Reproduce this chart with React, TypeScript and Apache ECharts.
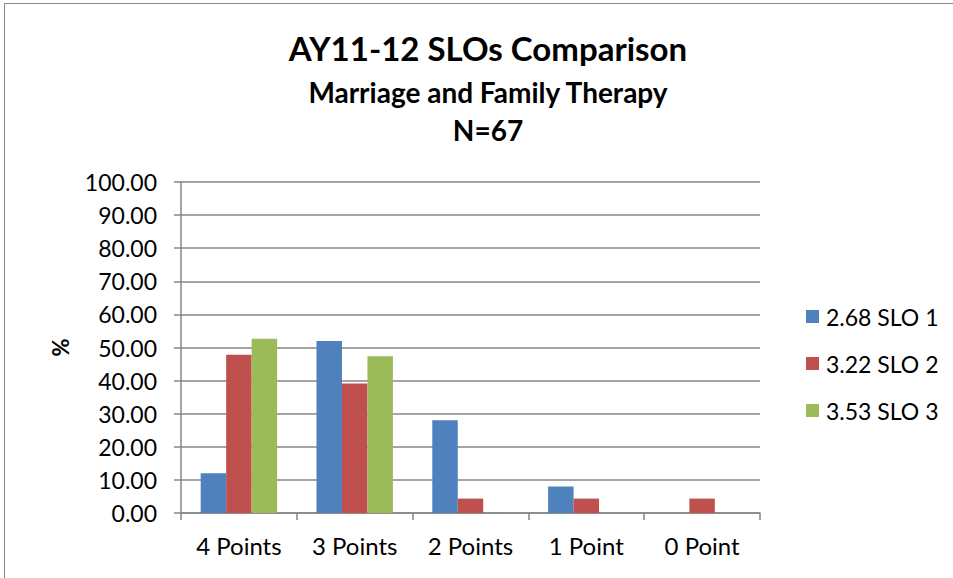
import React, { useEffect, useRef } from "react";
import * as echarts from "echarts";

const categories = ["4 Points", "3 Points", "2 Points", "1 Point", "0 Point"];
const seriesNames = ["2.68 SLO 1", "3.22 SLO 2", "3.53 SLO 3"];
const slo1 = [12.0, 52.0, 28.0, 8.0, 0];
const slo2 = [47.83, 39.13, 4.35, 4.35, 4.35];
const slo3 = [52.63, 47.37, 0, 0, 0];
const colors = ["#4F81BD", "#C0504D", "#9BBB59"];
const titleLines = ["AY11-12 SLOs Comparison", "Marriage and Family Therapy", "N=67"];

const FONT = "Lato, 'Open Sans', sans-serif";

export default function App() {
  const ref = useRef<HTMLDivElement>(null);
  useEffect(() => {
    document.body.style.margin = "0";
    const chart = echarts.init(ref.current!, null, { renderer: "svg" });
    const data = [slo1, slo2, slo3];
    chart.setOption({
      animation: false,
      backgroundColor: "#ffffff",
      textStyle: { fontFamily: FONT },
      grid: { left: 181, right: 193, top: 182, bottom: 65, containLabel: false },
      graphic: [
        {
          type: "rect",
          shape: { x: 4.5, y: 3.5, width: 1000, height: 1000 },
          style: { fill: "none", stroke: "#868686", lineWidth: 1 },
          silent: true,
        },
        {
          type: "text",
          x: 488,
          y: 48,
          style: { text: titleLines[0], font: `bold 33px ${FONT}`, fill: "#000", textAlign: "center", textVerticalAlign: "middle" },
        },
        {
          type: "text",
          x: 488,
          y: 92,
          style: { text: titleLines[1], font: `bold 28px ${FONT}`, fill: "#000", textAlign: "center", textVerticalAlign: "middle" },
        },
        {
          type: "text",
          x: 488,
          y: 130,
          style: { text: titleLines[2], font: `bold 28px ${FONT}`, fill: "#000", textAlign: "center", textVerticalAlign: "middle" },
        },
      ],
      legend: {
        orient: "vertical",
        left: 801,
        top: 300,
        itemWidth: 13,
        itemHeight: 13,
        itemGap: 24,
        icon: "rect",
        textStyle: { fontSize: 23, color: "#000", fontFamily: FONT, padding: [0, 0, 0, 2] },
        data: seriesNames,
      },
      xAxis: {
        type: "category",
        data: categories,
        axisLine: { lineStyle: { color: "#868686", width: 1.5 } },
        axisTick: { show: true, length: 7, alignWithLabel: false, lineStyle: { color: "#868686", width: 1.5 } },
        axisLabel: { fontSize: 24, color: "#000", margin: 20, fontFamily: FONT },
      },
      yAxis: {
        type: "value",
        min: 0,
        max: 100,
        interval: 10,
        name: "%",
        nameLocation: "middle",
        nameGap: 110,
        nameRotate: 90,
        nameTextStyle: { fontSize: 22, fontWeight: "bold", color: "#000", fontFamily: FONT },
        axisLine: { show: true, lineStyle: { color: "#868686", width: 1.5 } },
        axisTick: { show: true, length: 7, lineStyle: { color: "#868686", width: 1.5 } },
        axisLabel: { fontSize: 23, color: "#000", margin: 24, fontFamily: FONT, formatter: (v: number) => v.toFixed(2) },
        splitLine: { lineStyle: { color: "#868686", width: 1.5 } },
      },
      series: seriesNames.map((n, i) => ({
        name: n,
        type: "bar",
        data: data[i],
        barGap: "0%",
        barCategoryGap: "34%",
        itemStyle: { color: colors[i] },
      })),
    });
    return () => chart.dispose();
  }, []);
  return <div ref={ref} style={{ width: 953, height: 578 }} />;
}
